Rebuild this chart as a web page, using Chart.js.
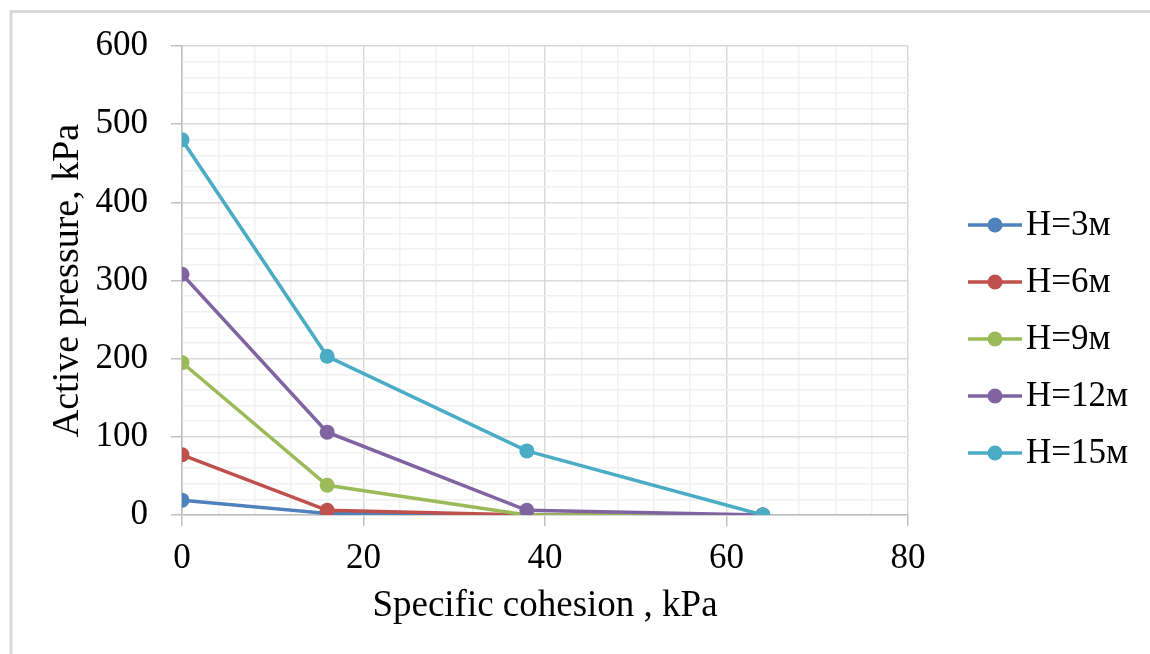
<!DOCTYPE html>
<html>
<head>
<meta charset="utf-8">
<script src="https://cdn.jsdelivr.net/npm/chart.js@4"></script>
<style>
    html, body { margin: 0; padding: 0; background: #fff; }
    #wrap { width: 1150px; height: 654px; position: relative; }
</style>
</head>
<body>
<div id="wrap"><canvas id="chart" width="1150" height="654"></canvas></div>
<script>
// values
const cohesion = [0, 16, 38, 64];
const h3 = [19, 2, 0, 0];
const h6 = [77, 6, 0, 0];
const h9 = [195, 38, 0, 0];
const h12 = [308, 106, 6, 0];
const h15 = [480, 203, 82, 0];

const seriesNames = ['H=3м', 'H=6м', 'H=9м', 'H=12м', 'H=15м'];
const seriesValues = [h3, h6, h9, h12, h15];
const seriesColors = ['#4f81bd', '#c0504d', '#9bbb59', '#8064a2', '#4bacc6'];

const FONT = '"Liberation Serif", "Times New Roman", serif';

const datasets = seriesValues.map((vals, i) => ({
    label: seriesNames[i],
    data: cohesion.map((x, j) => ({ x: x, y: vals[j] })),
    borderColor: seriesColors[i],
    backgroundColor: seriesColors[i],
    borderWidth: 3.5,
    pointRadius: 7.5,
    pointHoverRadius: 7.5,
    pointBorderWidth: 0,
    order: seriesValues.length - i
}));

// frame lines on top and left of the picture
const framePlugin = {
    id: 'frame',
    beforeDraw(chart) {
        const ctx = chart.ctx;
        ctx.save();
        ctx.strokeStyle = '#d9d9d9';
        ctx.lineWidth = 3;
        ctx.beginPath();
        ctx.moveTo(11, 654);
        ctx.lineTo(11, 11.5);
        ctx.lineTo(1150, 11.5);
        ctx.stroke();
        ctx.restore();
    }
};

// legend drawn by hand: line + marker, then label
const legendPlugin = {
    id: 'sideLegend',
    afterDraw(chart) {
        const ctx = chart.ctx;
        ctx.save();
        ctx.font = '35px ' + FONT;
        ctx.textBaseline = 'middle';
        ctx.textAlign = 'left';
        seriesNames.forEach((name, i) => {
            const y = 225 + i * 57;
            ctx.strokeStyle = seriesColors[i];
            ctx.lineWidth = 3.5;
            ctx.beginPath();
            ctx.moveTo(968, y);
            ctx.lineTo(1022, y);
            ctx.stroke();
            ctx.fillStyle = seriesColors[i];
            ctx.beginPath();
            ctx.arc(995, y, 7.5, 0, Math.PI * 2);
            ctx.fill();
            ctx.fillStyle = '#000';
            ctx.fillText(name, 1026, y + 1);
        });
        ctx.restore();
    }
};

new Chart(document.getElementById('chart'), {
    type: 'line',
    data: { datasets: datasets },
    options: {
        responsive: false,
        animation: false,
        devicePixelRatio: 1,
        layout: { padding: { left: 0, top: 46, right: 242, bottom: 0 } },
        plugins: { legend: { display: false }, tooltip: { enabled: false } },
        scales: {
            x: {
                type: 'linear',
                min: 0,
                max: 80,
                afterFit: (s) => { s.height = 139; },
                ticks: {
                    stepSize: 4,
                    autoSkip: false,
                    maxRotation: 0,
                    padding: 12,
                    color: '#000',
                    font: { family: FONT, size: 35 },
                    callback: (v) => (v % 20 === 0 ? v : '')
                },
                grid: {
                    color: (c) => (c.tick && c.tick.value % 20 === 0 ? '#d9d9d9' : '#f0f0f0'),
                    lineWidth: 1.5,
                    tickLength: 11,
                    tickColor: (c) => (c.tick && c.tick.value % 20 === 0 ? '#bfbfbf' : 'rgba(0,0,0,0)')
                },
                border: { color: '#bfbfbf', width: 1.5 },
                title: {
                    display: true,
                    text: 'Specific cohesion , kPa',
                    color: '#000',
                    font: { family: FONT, size: 37 },
                    padding: { top: 0, bottom: 26 }
                }
            },
            y: {
                type: 'linear',
                min: 0,
                max: 600,
                afterFit: (s) => { s.width = 182; },
                ticks: {
                    stepSize: 20,
                    autoSkip: false,
                    padding: 23,
                    color: '#000',
                    font: { family: FONT, size: 35 },
                    callback: (v) => (v % 100 === 0 ? v : '')
                },
                grid: {
                    color: (c) => (c.tick && c.tick.value % 100 === 0 ? '#d9d9d9' : '#f0f0f0'),
                    lineWidth: 1.5,
                    tickLength: 11,
                    tickColor: (c) => (c.tick && c.tick.value % 100 === 0 ? '#bfbfbf' : 'rgba(0,0,0,0)')
                },
                border: { color: '#bfbfbf', width: 1.5 },
                title: {
                    display: true,
                    text: 'Active pressure, kPa',
                    color: '#000',
                    font: { family: FONT, size: 38 },
                    padding: { top: 45, bottom: 0 }
                }
            }
        }
    },
    plugins: [framePlugin, legendPlugin]
});
</script>
</body>
</html>
